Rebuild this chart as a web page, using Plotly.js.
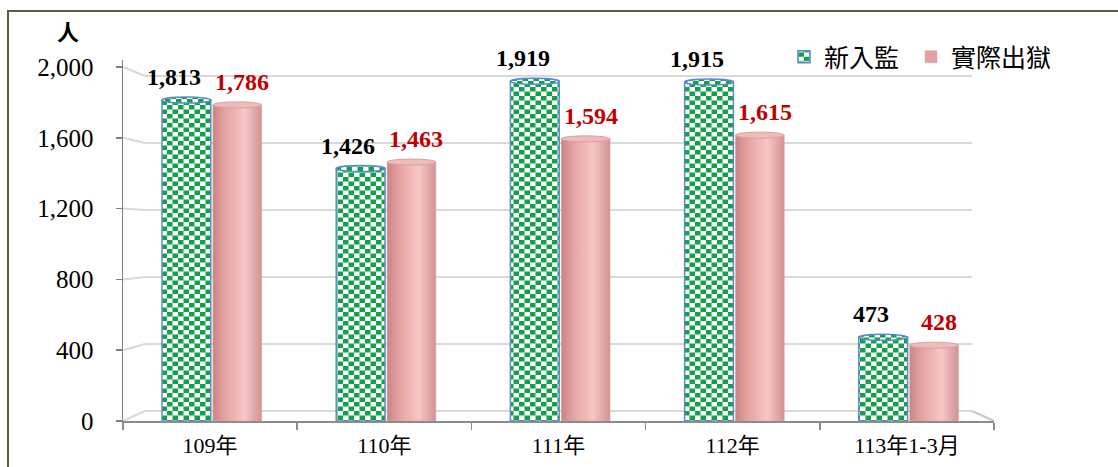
<!DOCTYPE html>
<html>
<head>
<meta charset="utf-8">
<script src="https://cdn.plot.ly/plotly-3.0.1.min.js"></script>
<style>
  html, body { margin: 0; padding: 0; background: #fff; }
  #wrap { position: relative; width: 1118px; height: 467px; overflow: hidden; }
  #chart { width: 1118px; height: 467px; }
  #frame { position: absolute; left: 7px; top: 10px; width: 1300px; height: 600px;
           border-left: 2px solid #5f5b44; border-top: 2px solid #5f5b44; pointer-events: none; }
</style>
</head>
<body>
<div id="wrap">
  <div id="chart"></div>
  <div id="frame"></div>
</div>
<script>
// ---- data ----
var categories = ['109年', '110年', '111年', '112年', '113年1-3月'];
var newInmates = [1813, 1426, 1919, 1915, 473];     // 新入監
var released   = [1786, 1463, 1594, 1615, 428];     // 實際出獄
var seriesNames = ['新入監', '實際出獄'];
var yTicks = [0, 400, 800, 1200, 1600, 2000];
var unitLabel = '人';

// ---- layout geometry (pixels) ----
var W = 1118, H = 467;
var plotL = 123, plotR = 994, plotT = 60, plotB = 421;
var y2000px = 67;                      // front scale: 2000 at this pixel
var pxPerUnit = (plotB - y2000px) / 2000;
var yMax = (plotB - plotT) / pxPerUnit;
// back wall (3D look)
var backL = 145, backR = 972, back0 = 411, back2000 = 76;

function px2paperX(p) { return (p - plotL) / (plotR - plotL); }
function px2paperY(p) { return (plotB - p) / (plotB - plotT); }
function frontPx(v) { return plotB - v * pxPerUnit; }
function backPx(v) { return back0 - v * (back0 - back2000) / 2000; }

var gridColor = '#d9d9d9';
var shapes = [];
yTicks.forEach(function (v) {
  shapes.push({type: 'line', xref: 'paper', yref: 'paper',
    x0: px2paperX(backL), x1: px2paperX(backR),
    y0: px2paperY(backPx(v)), y1: px2paperY(backPx(v)),
    line: {color: gridColor, width: 2}, layer: 'below'});
  shapes.push({type: 'line', xref: 'paper', yref: 'paper',
    x0: 0, x1: px2paperX(backL),
    y0: px2paperY(frontPx(v)), y1: px2paperY(backPx(v)),
    line: {color: gridColor, width: 2}, layer: 'below'});
});
shapes.push({type: 'line', xref: 'paper', yref: 'paper',
  x0: px2paperX(backR), x1: 1, y0: px2paperY(backPx(0)), y1: 0,
  line: {color: '#c8c8c8', width: 2}, layer: 'below'});

var barW = 0.28, gapW = 0.006, shiftW = 0.01;
var capHalf = 3 / pxPerUnit;   // half-height of cylinder cap in data units
categories.forEach(function (c, i) {
  var v1 = newInmates[i], v2 = released[i];
  shapes.push({type: 'circle', xref: 'x', yref: 'y',
    x0: i - barW - gapW + shiftW, x1: i - gapW + shiftW, y0: v1 - capHalf, y1: v1 + capHalf,
    line: {color: '#5b8cc8', width: 1.5}, fillcolor: '#1aa04a', layer: 'above'});
  shapes.push({type: 'circle', xref: 'x', yref: 'y',
    x0: i + gapW + shiftW, x1: i + barW + gapW + shiftW, y0: v2 - capHalf, y1: v2 + capHalf,
    line: {color: '#dca0a0', width: 1}, fillcolor: '#efbcbc', layer: 'above'});
});

var traces = [
  {type: 'bar', name: seriesNames[0], x: categories, y: newInmates,
   width: barW, offset: -barW - gapW + shiftW, legend: 'legend',
   marker: {color: '#1aa04a', line: {color: '#5b8cc8', width: 1.5}},
   hoverinfo: 'skip'},
  {type: 'bar', name: seriesNames[1], x: categories, y: released,
   width: barW, offset: gapW + shiftW, legend: 'legend2',
   marker: {color: '#eaa8a8', line: {color: '#e0a0a0', width: 0.5}},
   hoverinfo: 'skip'}
];

var labelFont = {family: 'Liberation Serif, Times New Roman, serif', size: 24, weight: 'bold'};
var annotations = [];
categories.forEach(function (c, i) {
  annotations.push({x: c, y: newInmates[i], xref: 'x', yref: 'y', text: newInmates[i].toLocaleString('en-US'),
    showarrow: false, yanchor: 'middle', xanchor: 'center', xshift: -36, yshift: 23,
    font: Object.assign({}, labelFont, {color: '#000000'})});
  annotations.push({x: c, y: released[i], xref: 'x', yref: 'y', text: released[i].toLocaleString('en-US'),
    showarrow: false, yanchor: 'middle', xanchor: 'center', xshift: 32, yshift: 23,
    font: Object.assign({}, labelFont, {color: '#c00000'})});
});
annotations.push({x: px2paperX(68), y: px2paperY(30), xref: 'paper', yref: 'paper', text: unitLabel,
  showarrow: false, xanchor: 'center', yanchor: 'middle',
  font: {family: 'Noto Sans CJK TC, sans-serif', size: 22, weight: 'bold', color: '#000'}});

var legFont = {family: 'Noto Sans CJK TC, sans-serif', size: 25, color: '#000'};
var layout = {
  width: W, height: H,
  margin: {l: plotL, r: W - plotR, t: plotT, b: H - plotB, pad: 0},
  paper_bgcolor: '#ffffff', plot_bgcolor: 'rgba(0,0,0,0)',
  barmode: 'overlay',
  showlegend: true,
  legend: {orientation: 'h', x: px2paperX(784), xanchor: 'left', y: px2paperY(57), yanchor: 'middle',
    font: legFont, bgcolor: 'rgba(0,0,0,0)', itemwidth: 30},
  legend2: {orientation: 'h', x: px2paperX(911), xanchor: 'left', y: px2paperY(57), yanchor: 'middle',
    font: legFont, bgcolor: 'rgba(0,0,0,0)', itemwidth: 30},
  xaxis: {type: 'category', showline: true, linecolor: '#8c8c8c', linewidth: 1.5,
    ticks: 'outside', ticklen: 7, tickcolor: '#8c8c8c', tickwidth: 1.5, tickson: 'boundaries',
    showgrid: false, zeroline: false, range: [-0.5, 4.5],
    tickfont: {family: 'Liberation Serif, Noto Sans CJK TC, serif', size: 22, color: '#000'},
    ticklabelstandoff: 4},
  yaxis: {range: [0, yMax], showline: true, linecolor: '#7f7f7f', linewidth: 1.5,
    ticks: 'outside', ticklen: 6, tickcolor: '#7f7f7f', tickwidth: 1.5,
    tickvals: yTicks, ticktext: yTicks.map(function (v) { return v.toLocaleString('en-US'); }),
    showgrid: false, zeroline: false,
    tickfont: {family: 'Liberation Serif, Times New Roman, serif', size: 25, color: '#000'},
    ticklabelstandoff: 17},
  shapes: shapes,
  annotations: annotations
};

Plotly.newPlot('chart', traces, layout, {displayModeBar: false, staticPlot: true}).then(function (gd) {
  var svgNS = 'http://www.w3.org/2000/svg';
  var svg = gd.querySelector('svg.main-svg');
  var defs = document.createElementNS(svgNS, 'defs');
  defs.innerHTML =
    '<pattern id="chk" patternUnits="userSpaceOnUse" width="11" height="9">' +
      '<rect x="0" y="0" width="11" height="9" fill="#ffffff"/>' +
      '<rect x="0" y="0" width="5.5" height="4.5" fill="#12a04a"/>' +
      '<rect x="5.5" y="4.5" width="5.5" height="4.5" fill="#12a04a"/>' +
    '</pattern>' +
    '<linearGradient id="pinkg" x1="0" y1="0" x2="1" y2="0">' +
      '<stop offset="0" stop-color="#c98585"/>' +
      '<stop offset="0.25" stop-color="#e6a3a3"/>' +
      '<stop offset="0.65" stop-color="#f7c6c6"/>' +
      '<stop offset="1" stop-color="#d19393"/>' +
    '</linearGradient>';
  svg.insertBefore(defs, svg.firstChild);
  var barTraces = gd.querySelectorAll('.barlayer .trace');
  if (barTraces[0]) barTraces[0].querySelectorAll('path').forEach(function (p) { p.style.fill = 'url(#chk)'; });
  if (barTraces[1]) barTraces[1].querySelectorAll('path').forEach(function (p) { p.style.fill = 'url(#pinkg)'; });
  var leg1 = gd.querySelector('.legend');
  var leg2 = gd.querySelector('.legend2');
  if (leg1) leg1.querySelectorAll('.legendpoints path').forEach(function (p) { p.style.fill = 'url(#chk)'; });
  if (leg2) leg2.querySelectorAll('.legendpoints path').forEach(function (p) { p.style.fill = '#dfa3a3'; });
  var capPaths = gd.querySelectorAll('.layer-above .shapelayer path');
  capPaths.forEach(function (p, k) {
    if (k % 2 === 0) p.style.fill = 'url(#chk)';
  });
});
</script>
</body>
</html>
